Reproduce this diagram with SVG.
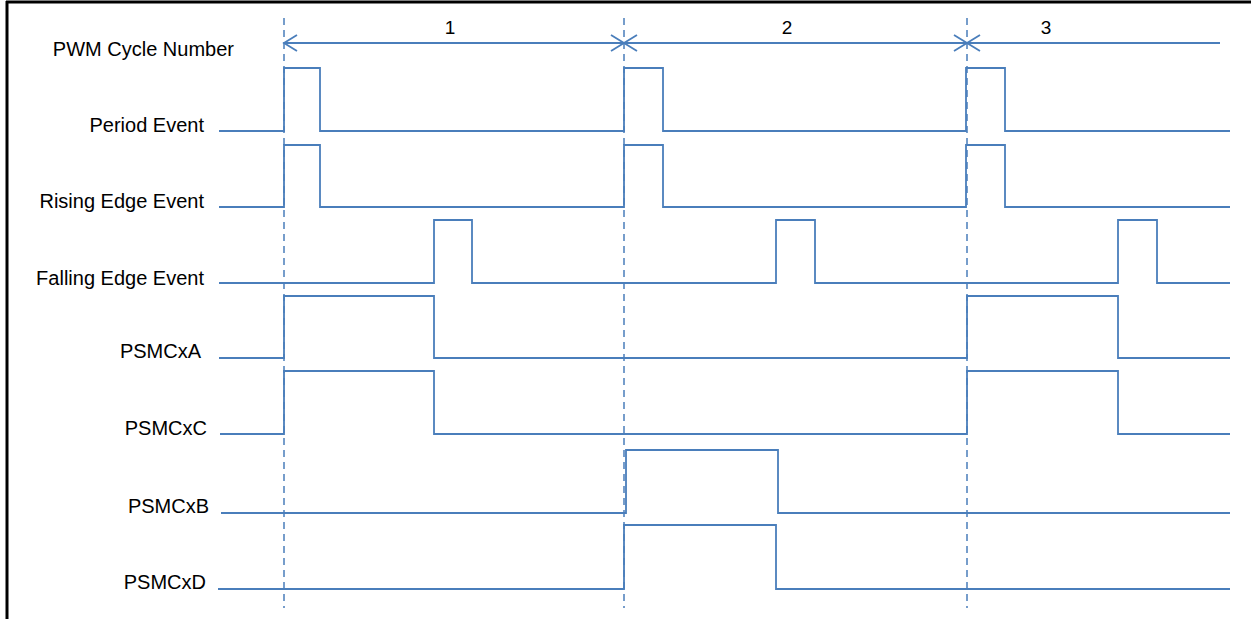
<svg xmlns="http://www.w3.org/2000/svg" width="1251" height="619" viewBox="0 0 1251 619">
<defs>
<style>
.sig{fill:none;stroke:#4a7ebb;stroke-width:1.8;stroke-linejoin:miter}
.dash{fill:none;stroke:#4a7ebb;stroke-width:1.5;stroke-dasharray:7,5}
.dim{fill:none;stroke:#4a7ebb;stroke-width:1.8}
.lbl{font-family:"Liberation Sans",Arial,sans-serif;font-size:20px;fill:#000;text-anchor:end}
.num{font-family:"Liberation Sans",Arial,sans-serif;font-size:19px;fill:#000;text-anchor:middle}
</style>
</defs>
<rect x="0" y="0" width="1251" height="619" fill="#fff"/>
<g id="frame">
<line x1="6" y1="2" x2="1251" y2="2" stroke="#000" stroke-width="3"/>
<line x1="7" y1="1" x2="7" y2="619" stroke="#000" stroke-width="3"/>
</g>
<g id="connectors">
<line class="dash" x1="284" y1="18" x2="284" y2="608"/>
<line class="dash" x1="624" y1="18" x2="624" y2="608"/>
<line class="dash" x1="967" y1="18" x2="967" y2="608"/>
<line class="dim" x1="284" y1="43" x2="1220" y2="43"/>
<path class="dim" d="M297,35 L284,43 L297,51"/>
<path class="dim" d="M611,35 L624,43 L611,51"/>
<path class="dim" d="M637,35 L624,43 L637,51"/>
<path class="dim" d="M954,35 L967,43 L954,51"/>
<path class="dim" d="M980,35 L967,43 L980,51"/>
</g>
<g id="cycle-labels">
<text class="num" x="450" y="34">1</text>
<text class="num" x="787" y="34">2</text>
<text class="num" x="1046" y="34">3</text>
</g>
<g id="pwm-cycle-number"><text class="lbl" x="234" y="56">PWM Cycle Number</text></g>
<g id="period-event">
<text class="lbl" x="204" y="132">Period Event</text>
<path class="sig" d="M219,131 H284 V68 H320 V131 H624 V68 H663 V131 H966 V68 H1005 V131 H1230"/>
</g>
<g id="rising-edge-event">
<text class="lbl" x="204" y="208">Rising Edge Event</text>
<path class="sig" d="M219,207 H284 V145 H320 V207 H624 V145 H663 V207 H966 V145 H1005 V207 H1230"/>
</g>
<g id="falling-edge-event">
<text class="lbl" x="204" y="285">Falling Edge Event</text>
<path class="sig" d="M219,283 H434 V220 H472 V283 H776 V220 H815 V283 H1118 V220 H1157 V283 H1230"/>
</g>
<g id="psmcxa">
<text class="lbl" x="201" y="358">PSMCxA</text>
<path class="sig" d="M219,358 H284 V296 H434 V358 H967 V296 H1118 V358 H1230"/>
</g>
<g id="psmcxc">
<text class="lbl" x="207" y="435">PSMCxC</text>
<path class="sig" d="M220,434 H284 V371 H434 V434 H967 V371 H1118 V434 H1230"/>
</g>
<g id="psmcxb">
<text class="lbl" x="209" y="513">PSMCxB</text>
<path class="sig" d="M221,513 H626 V450 H778 V513 H1230"/>
</g>
<g id="psmcxd">
<text class="lbl" x="206" y="589">PSMCxD</text>
<path class="sig" d="M218,589 H624 V525 H776 V589 H1230"/>
</g>
</svg>
